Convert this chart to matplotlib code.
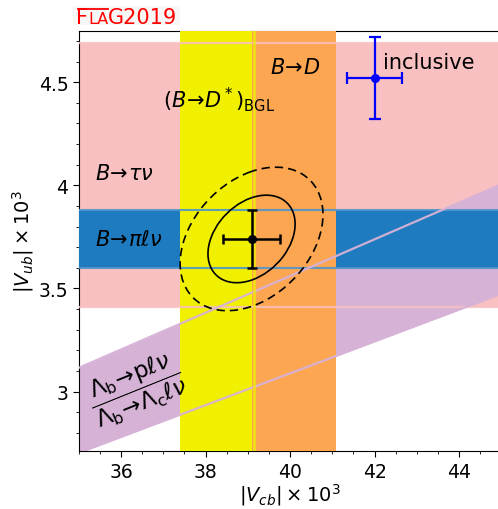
import numpy as np
import matplotlib
matplotlib.use("Agg")
import matplotlib.pyplot as plt
from matplotlib.patches import Ellipse, Rectangle
from matplotlib.lines import Line2D
from matplotlib.ticker import MultipleLocator, FormatStrFormatter

# ---- inputs (all in units of 10^-3) ----
# |Vub| from B -> tau nu
vub_taunu, vub_taunu_err = 4.05, 0.64
# |Vub| from B -> pi l nu
vub_pilnu, vub_pilnu_err = 3.74, 0.14
# |Vcb| from B -> D* (BGL), band edges
vcb_dstar_lo, vcb_dstar_hi = 37.40, 39.14
# |Vcb| from B -> D
vcb_bd, vcb_bd_err = 40.10, 1.00
# |Vub|/|Vcb| from Lambda_b decays, band edges
ratio_lo, ratio_hi = 0.0772, 0.0890
# inclusive determinations
incl_vcb, incl_vcb_err = 42.00, 0.65
incl_vub, incl_vub_err = 4.52, 0.20
# combined fit
fit_vcb, fit_vcb_err = 39.09, 0.68
fit_vub, fit_vub_err = 3.74, 0.14
fit_rho = 0.34
contour_dchi2 = [2.30, 6.18]
contour_styles = ["-", (0, (5, 3))]

xlim = (35.0, 45.0)
ylim = (2.71, 4.75)
xticks = [36, 38, 40, 42, 44]
yticks = [3.0, 3.5, 4.0, 4.5]

c_pink = "#f8c0c0"
c_blue = "#1f7bbf"
c_yellow = "#f0f000"
c_orange = "#fca652"
c_purple = "#d7b2d7"

W, H, DPI = 498, 510, 100
fig = plt.figure(figsize=(W / DPI, H / DPI), dpi=DPI)
ax = fig.add_axes([78.75 / W, 1 - 452.3 / H, (501.25 - 78.75) / W, (452.3 - 31.7) / H])
ax.set_xlim(*xlim)
ax.set_ylim(*ylim)

# filled bands
ax.axhspan(vub_taunu - vub_taunu_err, vub_taunu + vub_taunu_err, color=c_pink, lw=0, zorder=1)
xs = np.array(xlim)
ax.fill_between(xs, ratio_lo * xs, ratio_hi * xs, color=c_purple, lw=0, zorder=2)
ax.axhspan(vub_pilnu - vub_pilnu_err, vub_pilnu + vub_pilnu_err, color=c_blue, lw=0, zorder=3)
ax.axvspan(vcb_dstar_lo, vcb_dstar_hi, color=c_yellow, lw=0, zorder=4)
ax.axvspan(vcb_bd - vcb_bd_err, vcb_bd + vcb_bd_err, color=c_orange, lw=0, zorder=5)

# band edges
for y in (vub_taunu - vub_taunu_err, vub_taunu + vub_taunu_err):
    ax.axhline(y, color=c_pink, lw=1.6, alpha=0.85, zorder=6)
for y in (vub_pilnu - vub_pilnu_err, vub_pilnu + vub_pilnu_err):
    ax.axhline(y, color="#4f95cc", lw=1.5, alpha=0.9, zorder=6)
for r in (ratio_lo, ratio_hi):
    ax.plot(xs, r * xs, color=c_purple, lw=1.6, alpha=0.95, zorder=6)
ax.axvline(vcb_dstar_hi, color=c_yellow, lw=1.8, alpha=0.8, zorder=6)

# fit contours
cov = np.array([[fit_vcb_err ** 2, fit_rho * fit_vcb_err * fit_vub_err],
                [fit_rho * fit_vcb_err * fit_vub_err, fit_vub_err ** 2]])
evals, evecs = np.linalg.eigh(cov)
angle = np.degrees(np.arctan2(evecs[1, 1], evecs[0, 1]))
for d, ls in zip(contour_dchi2, contour_styles):
    e = Ellipse((fit_vcb, fit_vub), 2 * np.sqrt(d * evals[1]), 2 * np.sqrt(d * evals[0]),
                angle=angle, fill=False, ec="black", lw=1.2, ls=ls, zorder=8)
    ax.add_patch(e)

ax.errorbar(fit_vcb, fit_vub, xerr=fit_vcb_err, yerr=fit_vub_err, fmt="o", color="black",
            ms=5.5, elinewidth=1.8, capsize=3.5, capthick=1.8, zorder=9)
ax.errorbar(incl_vcb, incl_vub, xerr=incl_vcb_err, yerr=incl_vub_err, fmt="o", color="#0000ff",
            ms=5.5, elinewidth=1.6, capsize=4, capthick=1.6, zorder=9)

# labels
fs = 15
ax.text(36.99, 4.38, r"$(B\!\to\! D^*)_{\rm BGL}$", fontsize=fs, zorder=10)
ax.text(39.53, 4.547, r"$B\!\to\! D$", fontsize=fs, zorder=10)
ax.text(42.2, 4.57, "inclusive", fontsize=fs, zorder=10)
ax.text(35.385, 4.032, r"$B\!\to\!\tau\nu$", fontsize=fs, zorder=10)
ax.text(35.385, 3.713, r"$B\!\to\!\pi\ell\nu$", fontsize=fs, zorder=10)
ax.text(36.37, 3.015,
        r"$\dfrac{\Lambda_{\rm b}\!\to\!{\rm p}\ell\nu}{\Lambda_{\rm b}\!\to\!\Lambda_{\rm c}\ell\nu}$",
        fontsize=16.5, rotation=22, rotation_mode="anchor", ha="center", va="center", zorder=10)

ax.set_xlabel(r"$|V_{cb}|\times10^3$", fontsize=14, labelpad=0)
ax.set_ylabel(r"$|V_{ub}|\times10^3$", fontsize=14, labelpad=2)

ax.set_xticks(xticks)
ax.set_yticks(yticks)
ax.xaxis.set_minor_locator(MultipleLocator(0.5))
ax.yaxis.set_minor_locator(MultipleLocator(0.1))
ax.yaxis.set_major_formatter(FormatStrFormatter("%g"))
ax.tick_params(labelsize=13.5, direction="out")
ax.tick_params(which="major", length=4)
ax.tick_params(which="minor", length=2.5)
ax.spines["right"].set_visible(False)

# FLAG 2019 logo
fig.patches.append(Rectangle((73 / W, 1 - 26 / H), 107 / W, 19 / H, transform=fig.transFigure,
                             facecolor="#f7f7f7", edgecolor="none", zorder=0))
fig.canvas.draw()
renderer = fig.canvas.get_renderer()
x0, yb = 76 / W, 1 - 24 / H
big, small = 15.0, 11.5
t1 = fig.text(x0, yb, "F", color="red", fontsize=big, va="baseline")
b1 = t1.get_window_extent(renderer)
t2 = fig.text(b1.x1 / W, yb, "LA", color="red", fontsize=small, va="baseline")
b2 = t2.get_window_extent(renderer)
t3 = fig.text(b2.x1 / W, yb, "G2019", color="red", fontsize=big, va="baseline")
cap = 0.73 * big * DPI / 72
fig.lines.append(Line2D([b1.x0 / W + 1.5 / W, b2.x1 / W - 0.5 / W],
                        [yb + cap / H - 0.8 / H] * 2, transform=fig.transFigure,
                        color="red", lw=1.3))

fig.savefig("out.png", dpi=DPI)
